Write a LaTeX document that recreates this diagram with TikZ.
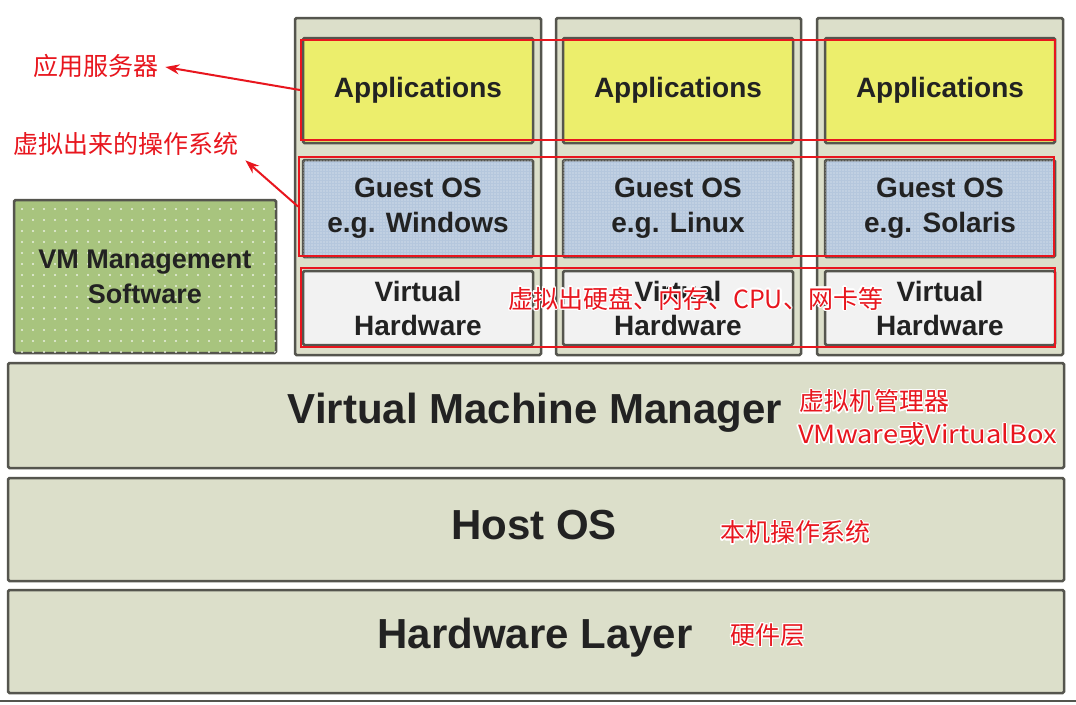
\documentclass[tikz,border=0pt]{standalone}
\usepackage{fontspec}
\setmainfont{Liberation Sans}
\newfontfamily\cjk{Noto Sans CJK SC}
\usepackage[copies]{contour}
\contourlength{1.2pt}
\usetikzlibrary{arrows.meta,patterns.meta}
\definecolor{panel}{HTML}{DCDFCA}
\definecolor{edge}{HTML}{55554E}
\definecolor{appy}{HTML}{ECEE6C}
\definecolor{gosb}{HTML}{B5C7DD}
\definecolor{vhw}{HTML}{F2F2F2}
\definecolor{vmg}{HTML}{A8C47E}
\definecolor{ann}{HTML}{E8161E}
\definecolor{ink}{HTML}{222222}
\newcommand{\halo}[1]{\contour{white}{#1}}
\tikzset{
  box/.style={draw=edge, line width=2.5pt, rounded corners=1.5pt, inner sep=0pt, text=ink, align=center},
  panelbox/.style={box, fill=panel},
  appbox/.style={box, fill=appy, minimum width=230pt, minimum height=105pt, font=\bfseries\fontsize{28}{34}\selectfont},
  gosbox/.style={box, fill=gosb, minimum width=230pt, minimum height=97pt, font=\bfseries\fontsize{28}{35}\selectfont,
     postaction={pattern={Dots[distance=3pt,radius=0.6pt]}, pattern color=white!70!gosb}},
  vhbox/.style={box, fill=vhw, minimum width=230pt, minimum height=74pt, font=\bfseries\fontsize{28}{34}\selectfont},
  layer/.style={box, fill=panel, minimum width=1056pt, font=\bfseries\fontsize{42}{48}\selectfont},
  redrect/.style={draw=ann, line width=2pt, inner sep=0pt},
  note/.style={text=ann, font=\cjk\fontsize{25}{30}\selectfont, inner sep=1pt},
  callout/.style={draw=ann, line width=2pt, -{Stealth[length=14pt,width=10pt]}}
}
\begin{document}
\begin{tikzpicture}[x=1pt,y=-1pt]
\useasboundingbox (0,0) rectangle (1076,704);
\fill[white] (0,0) rectangle (1076,704);
% VM panels
\node[panelbox, minimum width=246pt, minimum height=337pt] (p1) at (418,186.5) {};
\node[panelbox, minimum width=245pt, minimum height=337pt] (p2) at (678.5,186.5) {};
\node[panelbox, minimum width=246pt, minimum height=337pt] (p3) at (940,186.5) {};
% Applications
\node[appbox] (a1) at (418,90.5) {Applications};
\node[appbox] (a2) at (678,90.5) {Applications};
\node[appbox] (a3) at (940,90.5) {Applications};
% Guest OS
\node[gosbox] (g1) at (418,208.5) {Guest OS\\e.g. Windows};
\node[gosbox] (g2) at (678,208.5) {Guest OS\\e.g. Linux};
\node[gosbox] (g3) at (940,208.5) {Guest OS\\e.g. Solaris};
% Virtual hardware
\node[vhbox] (v1) at (418,308) {Virtual\\Hardware};
\node[vhbox] (v2) at (678,308) {Virtual\\Hardware};
\node[vhbox] (v3) at (940,308) {Virtual\\Hardware};
% VM management software
\node[box, fill=vmg, minimum width=262pt, minimum height=153pt, font=\bfseries\fontsize{27}{35}\selectfont,
  postaction={pattern={Dots[distance=11pt,radius=1.1pt]}, pattern color=white!75!vmg}] (vmm) at (145,276.5) {VM Management\\Software};
% layers
\node[layer, minimum height=105pt] (l1) at (536,415.5) {};
\node[layer, minimum height=103pt] (l2) at (536,529.5) {};
\node[layer, minimum height=103pt] (l3) at (536,641.5) {};
\node[text=ink, font=\bfseries\fontsize{42}{48}\selectfont, inner sep=0pt] (t1) at (535,413) {Virtual Machine Manager};
\node[text=ink, font=\bfseries\fontsize{42}{48}\selectfont, inner sep=0pt] (t2) at (534,525) {Host OS};
\node[text=ink, font=\bfseries\fontsize{42}{48}\selectfont, inner sep=0pt] (t3) at (535,638) {Hardware Layer};
\draw[edge, line width=2pt] (0,701) -- (1076,701);
% red highlight rectangles
\node[redrect, minimum width=754pt, minimum height=100pt] (r1) at (678,90) {};
\node[redrect, minimum width=755pt, minimum height=99pt] (r2) at (676.5,206.5) {};
\node[redrect, minimum width=754pt, minimum height=79pt] (r3) at (678,307.5) {};
% annotations
\node[note, anchor=west] (n1) at (32,67) {\halo{应用服务器}};
\node[note, anchor=west] (n2) at (12,145) {\halo{虚拟出来的操作系统}};
\node[note, anchor=west] (n3) at (507,299) {\halo{虚拟出硬盘、内存、CPU、网卡等}};
\node[note, anchor=west] (n4) at (798,402) {\halo{虚拟机管理器}};
\node[note, anchor=west] (n5) at (797,435) {\scalebox{1.09}[1]{\halo{VMware或VirtualBox}}};
\node[note, anchor=west] (n6) at (719,533) {\halo{本机操作系统}};
\node[note, anchor=west] (n7) at (729,636) {\halo{硬件层}};
\coordinate (c1) at (r1.west);
\coordinate (c2) at (r2.west);
\draw[callout] (c1) -- ([xshift=6pt]n1.east);
\draw[callout] (c2) -- ([xshift=6pt,yshift=-2pt]n2.south east);
\end{tikzpicture}
\end{document}
